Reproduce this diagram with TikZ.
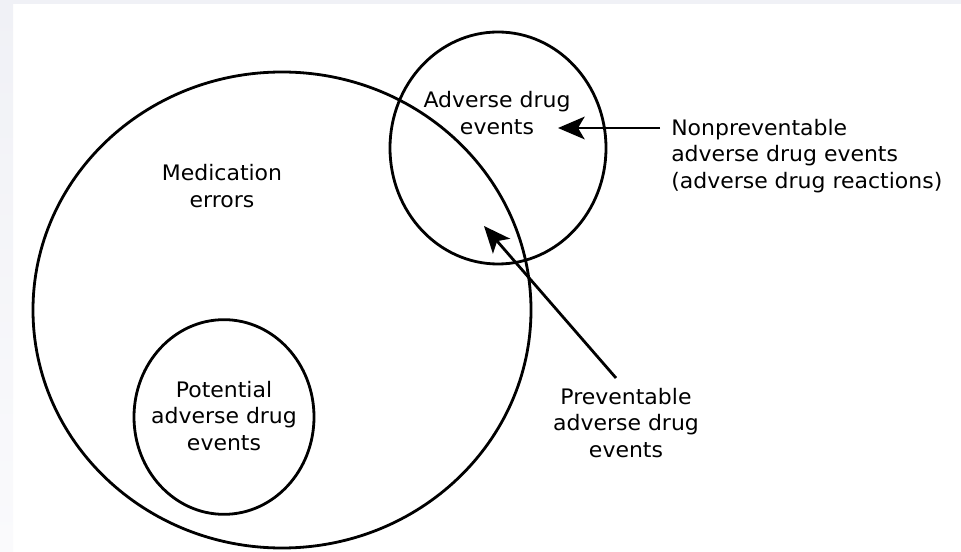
\documentclass[tikz,border=0pt]{standalone}
\usepackage{fontspec}
\setmainfont{DejaVu Sans}[FakeStretch=1.03]
\usetikzlibrary{arrows.meta,shapes.geometric}
\definecolor{edgetint}{HTML}{F0F1F6}
\definecolor{edgefade}{HTML}{FAFAFC}
\begin{document}
\begin{tikzpicture}[x=0.75pt,y=-0.75pt,
  ring/.style={draw=black,line width=2.1pt,ellipse,inner sep=0pt},
  caption/.style={align=center,font=\fontsize{16}{19.8}\selectfont,inner sep=0pt},
  pointer/.style={line width=2.1pt,-{Stealth[length=20pt,width=17pt,inset=5pt]}}]
% page background with a faint tinted frame at the top and left
\fill[white] (0,0) rectangle (961,552);
\shade[top color=edgetint,bottom color=edgefade] (0,0) rectangle (13,552);
\fill[edgetint] (0,0) rectangle (961,4);
\useasboundingbox (0,0) rectangle (961,552);

% the three sets
\node[ring,minimum width=373.5pt,minimum height=357pt] (medErr) at (282,310) {};
\node[ring,minimum width=162pt,minimum height=174pt] (ade) at (498,148) {};
\node[ring,minimum width=135pt,minimum height=146pt] (potADE) at (224,417) {};

% set labels
\node[caption] (adeText) at (497,113) {Adverse drug\\events};
\node[caption] (medText) at (222,186) {Medication\\errors};
\node[caption] (potText) at (224,416) {Potential\\adverse drug\\events};
\node[caption] (prevText) at (626,423) {Preventable\\adverse drug\\events};
\node[caption,align=left,anchor=west] (nonprevText) at (671,156)
  {Nonpreventable\\adverse drug events\\(adverse drug reactions)};

% pointer arrows
\coordinate (nonprevTail) at (660,128);
\coordinate (nonprevTip) at (558,128);
\coordinate (prevTail) at (616,378);
\coordinate (prevTip) at (484,226);
\draw[pointer] (nonprevTail) -- (nonprevTip);
\draw[pointer] (prevTail) -- (prevTip);
\end{tikzpicture}
\end{document}
